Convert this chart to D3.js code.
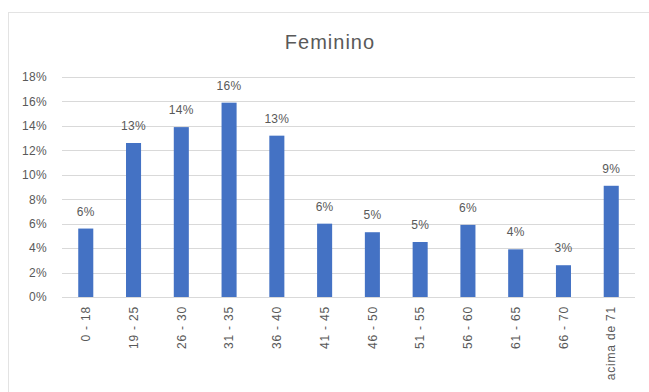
<!DOCTYPE html>
<html>
<head>
<meta charset="utf-8">
<script src="https://cdn.jsdelivr.net/npm/d3@7"></script>
<style>
  body { margin: 0; background: #fff; }
  svg { display: block; }
</style>
</head>
<body>
<script>
var width = 649, height = 392;

// faixas etarias e percentuais
var faixas = ['0 - 18', '19 - 25', '26 - 30', '31 - 35', '36 - 40', '41 - 45',
              '46 - 50', '51 - 55', '56 - 60', '61 - 65', '66 - 70', 'acima de 71'];
var valores = [5.6, 12.6, 13.9, 15.9, 13.2, 6.0, 5.3, 4.5, 5.9, 3.9, 2.6, 9.1];
var ticks = [0, 2, 4, 6, 8, 10, 12, 14, 16, 18];

var font = 'Liberation Sans, Arial, sans-serif';

var svg = d3.select('body').append('svg')
    .attr('width', width)
    .attr('height', height);

// moldura do grafico
svg.append('rect')
    .attr('x', 8.5).attr('y', 12.5)
    .attr('width', width).attr('height', height)
    .attr('fill', 'none')
    .attr('stroke', '#e3e3e3');

svg.append('text')
    .attr('x', 330).attr('y', 49)
    .attr('text-anchor', 'middle')
    .attr('font-family', font)
    .attr('font-size', '20px')
    .attr('letter-spacing', '1px')
    .attr('fill', '#595959')
    .text('Feminino');

var x = d3.scaleBand()
    .domain(faixas)
    .range([62, 635])
    .paddingInner(0.685)
    .paddingOuter(0.34);

var y = d3.scaleLinear()
    .domain([0, 18])
    .range([297, 77]);

// linhas de grade
svg.append('g')
    .selectAll('line')
    .data(ticks)
    .enter().append('line')
    .attr('x1', 62).attr('x2', 635)
    .attr('y1', function(d) { return Math.round(y(d)) + 0.5; })
    .attr('y2', function(d) { return Math.round(y(d)) + 0.5; })
    .attr('stroke', '#d9d9d9')
    .attr('stroke-width', 1);

// eixo y
var yAxis = svg.append('g')
    .attr('transform', 'translate(48,0)')
    .call(d3.axisLeft(y).tickValues(ticks).tickSize(0).tickPadding(1)
        .tickFormat(function(d) { return d + '%'; }));
yAxis.select('.domain').remove();
yAxis.selectAll('text')
    .attr('font-family', font)
    .attr('font-size', '12px')
    .attr('letter-spacing', '0.3px')
    .attr('fill', '#595959');

// barras
svg.append('g')
    .selectAll('rect')
    .data(valores)
    .enter().append('rect')
    .attr('x', function(d, i) { return x(faixas[i]); })
    .attr('width', x.bandwidth())
    .attr('y', function(d) { return y(d); })
    .attr('height', function(d) { return y(0) - y(d); })
    .attr('fill', '#4472c4');

// rotulos de dados
svg.append('g')
    .selectAll('text')
    .data(valores)
    .enter().append('text')
    .attr('x', function(d, i) { return x(faixas[i]) + x.bandwidth() / 2; })
    .attr('y', function(d) { return y(d) - 13; })
    .attr('text-anchor', 'middle')
    .attr('font-family', font)
    .attr('font-size', '12px')
    .attr('letter-spacing', '0.3px')
    .attr('fill', '#595959')
    .text(function(d) { return Math.round(d) + '%'; });

// eixo x
var xAxis = svg.append('g')
    .attr('transform', 'translate(0,297)')
    .call(d3.axisBottom(x).tickSize(0).tickPadding(0));
xAxis.select('.domain').remove();
xAxis.selectAll('text')
    .attr('font-family', font)
    .attr('font-size', '12px')
    .attr('letter-spacing', '0.8px')
    .attr('fill', '#595959')
    .attr('text-anchor', 'end')
    .attr('dy', '0.35em')
    .attr('transform', 'translate(0,9) rotate(-90)');
</script>
</body>
</html>
